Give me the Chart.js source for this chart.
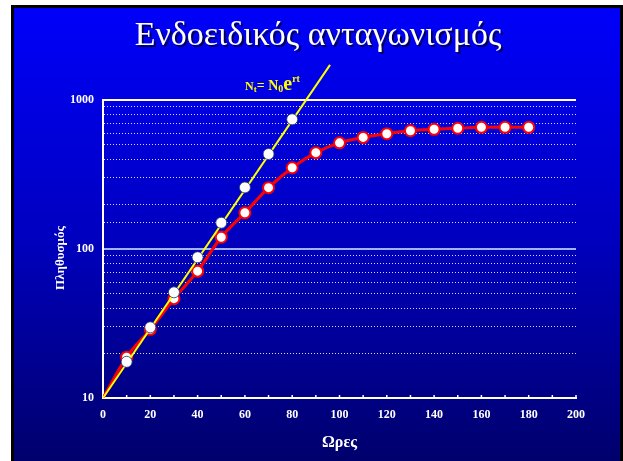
<!DOCTYPE html>
<html><head><meta charset="utf-8">
<script src="https://cdn.jsdelivr.net/npm/chart.js@4/dist/chart.umd.min.js"></script>
<style>html,body{margin:0;padding:0;background:#fff;}#wrap{width:623px;height:461px;position:relative;}</style>
</head><body><div id="wrap"><canvas id="c" width="623" height="461"></canvas></div>
<script>
const titleText = "Ενδοειδικός ανταγωνισμός";
const xTitle = "Ωρες";
const yTitle = "Πληθυσμός";
const hours = [0,10,20,30,40,50,60,70,80,90,100,110,120,130,140,150,160,170,180];
const logisticValues = [10,18.8,28.9,46.4,71,120,175,258,351,443,516,561,594,622,636,646,656,656,656];
const expHours = [10,20,30,40,50,60,70,80];
const expValues = [17.5,29.8,51.2,88,150,259,434,742];
const lineHours = [0,96];
const lineValues = [10,1720];
const yMajorTicks = [10,100,1000];

const serif = '"Liberation Serif", "Times New Roman", serif';
const bgPlugin = {
  id:'bg',
  beforeDraw(chart){
    const ctx = chart.ctx;
    ctx.save();
    ctx.fillStyle='#fff'; ctx.fillRect(0,0,623,461);
    ctx.fillStyle='#000'; ctx.fillRect(11,5,612,456);
    const g = ctx.createLinearGradient(0,8,0,461);
    g.addColorStop(0,'#0000FA');
    g.addColorStop(0.5,'#0000C0');
    g.addColorStop(1,'#00006C');
    ctx.fillStyle=g; ctx.fillRect(14,8,606,453);
    ctx.restore();
  },
  afterDraw(chart){
    const ctx = chart.ctx;
    ctx.save();
    // title
    ctx.font = '34px ' + serif;
    ctx.textAlign='center'; ctx.textBaseline='alphabetic';
    ctx.fillStyle='rgba(0,0,60,0.9)';
    ctx.fillText(titleText, 320, 47);
    ctx.fillStyle='#fff';
    ctx.fillText(titleText, 318, 45);
    // y axis title
    ctx.save();
    ctx.translate(61, 258);
    ctx.rotate(-Math.PI/2);
    ctx.font = 'bold 13px ' + serif;
    ctx.textBaseline='middle';
    ctx.fillStyle='#fff';
    ctx.fillText(yTitle, 0, 0);
    ctx.restore();
    // formula
    ctx.fillStyle='#FFFF00';
    ctx.textAlign='left';
    let x=245; const base=90;
    const part=(t,size,dy)=>{ctx.font='bold '+size+'px '+serif; ctx.fillText(t,x,base+dy); x+=ctx.measureText(t).width;};
    part('N',12,0); part('t',9,2); part('= N',14,0); part('0',10,2); part('e',20,0); part('rt',10,-8);
    // x inner ticks
    const xs = chart.scales.x, area = chart.chartArea;
    ctx.strokeStyle='#fff'; ctx.lineWidth=1.5;
    xs.ticks.forEach(t=>{ if(t.value===0) return; const px=xs.getPixelForValue(t.value); ctx.beginPath(); ctx.moveTo(px,area.bottom); ctx.lineTo(px,area.bottom-3); ctx.stroke();});
    ctx.restore();
  }
};

const font = {family:serif, weight:'bold', size:12};
new Chart(document.getElementById('c'), {
  type:'line',
  data:{
    datasets:[
      {label:'exp line', data:lineHours.map((h,i)=>({x:h,y:lineValues[i]})), borderColor:'#FFFF00', borderWidth:2, pointRadius:0, clip:false, order:2},
      {label:'exp points', data:expHours.map((h,i)=>({x:h,y:expValues[i]})), showLine:false, pointRadius:5.5, pointBackgroundColor:'#fff', pointBorderColor:'#203070', pointBorderWidth:0.8, order:1},
      {label:'logistic', data:hours.map((h,i)=>({x:h,y:logisticValues[i]})), borderColor:'#FF0000', borderWidth:3, cubicInterpolationMode:'monotone', pointRadius:ctx=>ctx.dataIndex===0?0:5.5, pointBackgroundColor:'#fff', pointBorderColor:'#FF0000', pointBorderWidth:2, order:3}
    ]
  },
  options:{
    responsive:false, animation:false, devicePixelRatio:1,
    layout:{padding:{left:52,top:100,right:47,bottom:0}},
    plugins:{legend:{display:false}, tooltip:{enabled:false}, title:{display:false}},
    scales:{
      x:{type:'linear', min:0, max:200,
        ticks:{stepSize:10, color:'#fff', font, padding:10, maxRotation:0, autoSkip:false, callback:v=>v%20===0?String(v):''},
        grid:{display:false, drawOnChartArea:false, drawTicks:false},
        border:{display:true, color:'#fff', width:2},
        title:{display:true, text:xTitle, color:'#fff', font:{family:serif, weight:'bold', size:16}, padding:{top:0,bottom:9}},
        afterFit:s=>{s.height=63;}
      },
      y:{type:'logarithmic', min:10, max:1000,
        ticks:{color:'#fff', font, padding:9, autoSkip:false, callback:v=>yMajorTicks.includes(v)?String(v):''},
        grid:{drawTicks:false,
          color:c=>{const v=c.tick&&c.tick.value; if(v===1000) return '#ffffff'; if(v===100) return '#9fb4ff'; if(v===10) return 'rgba(0,0,0,0)'; return 'rgba(255,255,255,0.85)';},
          lineWidth:c=>{const v=c.tick&&c.tick.value; return (v===1000||v===100)?2:1;}
        },
        border:{color:'#fff', width:2, dash:c=>{const v=c.tick&&c.tick.value; return (v===1000||v===100||v===10)?[]:[1,2];}},
        title:{display:false},
        afterFit:s=>{s.width=51;}
      }
    }
  },
  plugins:[bgPlugin]
});
</script></body></html>
